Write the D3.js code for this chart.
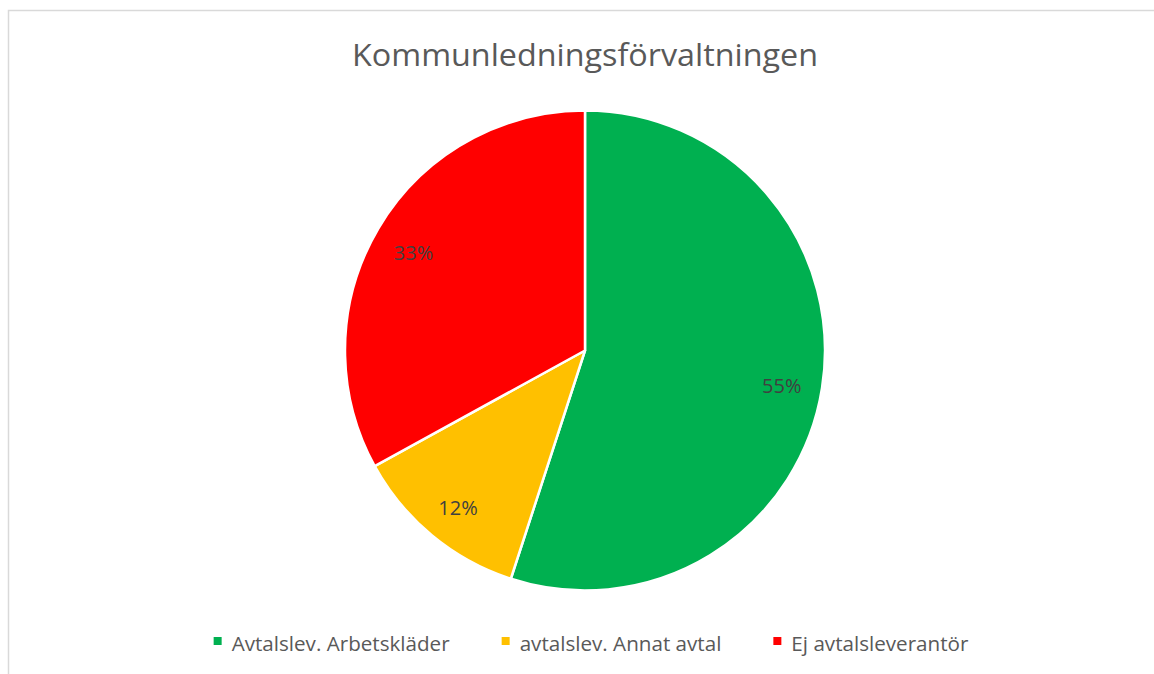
<!DOCTYPE html>
<html>
<head>
<meta charset="utf-8">
<script src="https://cdn.jsdelivr.net/npm/d3@7"></script>
<style>
  html, body { margin: 0; padding: 0; background: #fff; }
  svg { display: block; }
  text { font-family: "Open Sans", "Noto Sans", sans-serif; }
</style>
</head>
<body>
<svg id="chart" width="1154" height="674"></svg>
<script>
const title = "Kommunledningsförvaltningen";
const categories = ["Avtalslev. Arbetskläder", "avtalslev. Annat avtal", "Ej avtalsleverantör"];
const values = [55, 12, 33];
const colors = ["#00B050", "#FFC000", "#FF0000"];

const W = 1154, H = 674;
const svg = d3.select("#chart");

// chart area border
svg.append("rect")
  .attr("x", 8.5).attr("y", 10.5)
  .attr("width", W + 10).attr("height", H + 10)
  .attr("fill", "#fff").attr("stroke", "#d9d9d9").attr("stroke-width", 1.5);

function fit(sel, target) {
  sel.attr("textLength", target).attr("lengthAdjust", "spacingAndGlyphs");
}

// title
const t = svg.append("text")
  .attr("x", 585).attr("y", 66)
  .attr("text-anchor", "middle")
  .attr("font-size", 30.5)
  .attr("fill", "#595959")
  .text(title);
fit(t, 466);

// pie
const cx = 585, cy = 350.5, R = 240;
const pie = d3.pie().sort(null).value(d => d.v);
const arcs = pie(categories.map((c, i) => ({ c, v: values[i], col: colors[i] })));
const arc = d3.arc().innerRadius(0).outerRadius(R);
const labelArc = d3.arc().innerRadius(R * 0.83).outerRadius(R * 0.83);
const total = d3.sum(values);

const g = svg.append("g").attr("transform", `translate(${cx},${cy})`);
g.selectAll("path.slice").data(arcs).join("path")
  .attr("class", "slice")
  .attr("d", arc)
  .attr("fill", d => d.data.col)
  .attr("stroke", "#fff")
  .attr("stroke-width", 2.5)
  .attr("stroke-linejoin", "round");

g.selectAll("text.lbl").data(arcs).join("text")
  .attr("class", "lbl")
  .attr("x", d => labelArc.centroid(d)[0])
  .attr("y", d => labelArc.centroid(d)[1] + 11)
  .attr("text-anchor", "middle")
  .attr("font-size", 20)
  .attr("fill", "#404040")
  .text(d => Math.round(d.data.v / total * 100) + "%");

// legend
const legY = 651;
const legend = svg.append("g");
const items = legend.selectAll("g").data(categories).join("g");
items.append("rect")
  .attr("width", 8).attr("height", 8)
  .attr("y", legY - 14)
  .attr("fill", (d, i) => colors[i]);
const texts = items.append("text")
  .attr("x", 18).attr("y", legY)
  .attr("font-size", 20.5)
  .attr("fill", "#595959")
  .text(d => d);
const w0 = texts.nodes()[0].getComputedTextLength();
const k = 218 / w0;
const widths = texts.nodes().map(n => n.getComputedTextLength() * k);
texts.each(function (d, i) {
  fit(d3.select(this), widths[i]);
});
const gap = 52;
const itemW = widths.map(w => 18 + w);
const totalW = d3.sum(itemW) + gap * (categories.length - 1);
const x0 = 591 - totalW / 2;
items.attr("transform", (d, i) => {
  const x = x0 + d3.sum(itemW.slice(0, i)) + gap * i;
  return `translate(${x},0)`;
});
</script>
</body>
</html>
